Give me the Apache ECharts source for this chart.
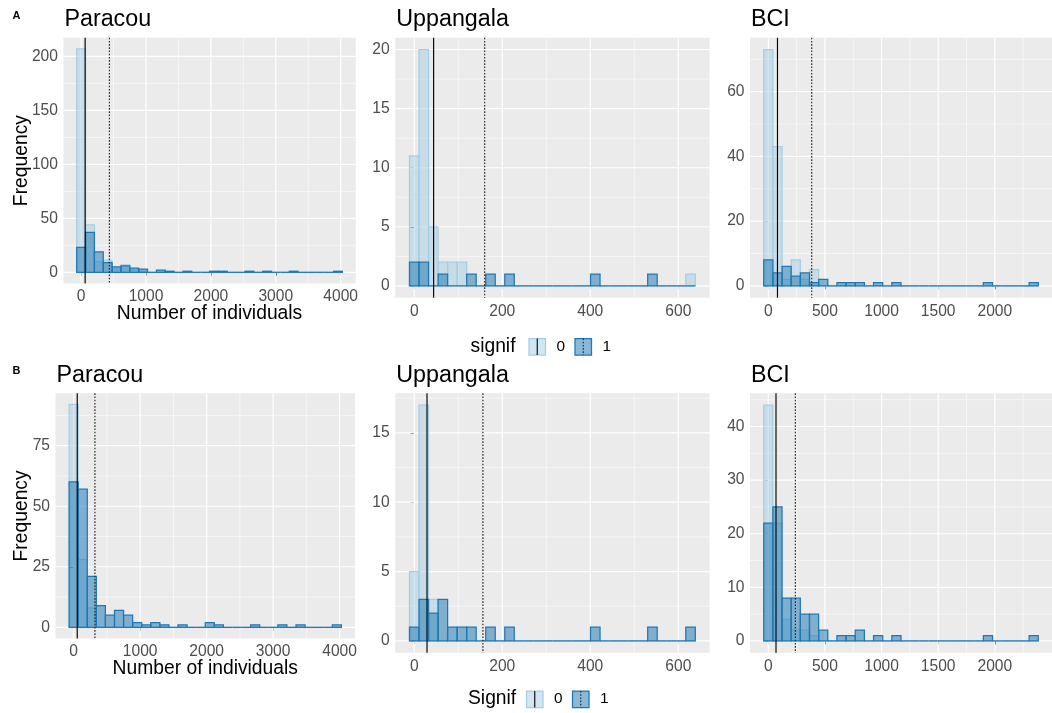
<!DOCTYPE html>
<html><head><meta charset="utf-8">
<script src="https://cdn.jsdelivr.net/npm/echarts@6/dist/echarts.min.js"></script>
<style>html,body{margin:0;padding:0;background:#fff}#c{width:1052px;height:713px}</style>
</head><body><div id="c"></div>
<script>
// ---------- DATA ----------
const sites = ["Paracou", "Uppangala", "BCI"];
const binWidth = [136.5, 21.65, 80.8];          // histogram bin width (30 bins, first centred at 0)
const xTicks = [[0,1000,2000,3000,4000],[0,200,400,600],[0,500,1000,1500,2000]];
const yTicksA = [[0,50,100,150,200],[0,5,10,15,20],[0,20,40,60]];
const yTicksB = [[0,25,50,75],[0,5,10,15],[0,10,20,30,40]];

// counts per bin: signif 0 / signif 1 (panel A)
const paracouA0 = [207,44,10,11,3,7,2,1,0,0,0,0,0,0,0,0,0,0,0,0,0,0,0,0,0,0,0,0,0,0];
const paracouA1 = [23,37,19,9,5,6,4,3,0,2,1,0,1,0,0,1,1,0,0,1,0,1,0,0,1,0,0,0,0,1];
const uppangalaA0 = [11,20,5,2,2,2,0,0,0,0,0,0,0,0,0,0,0,0,0,0,0,0,0,0,0,0,0,0,0,1];
const uppangalaA1 = [2,2,0,1,0,0,1,0,1,0,1,0,0,0,0,0,0,0,0,1,0,0,0,0,0,1,0,0,0,0];
const bciA0 = [73,43,2,8,2,5,0,0,0,0,0,0,0,0,0,0,0,0,0,0,0,0,0,0,0,0,0,0,0,0];
const bciA1 = [8,4,6,3,4,1,2,0,1,1,1,0,1,0,1,0,0,0,0,0,0,0,0,0,1,0,0,0,0,1];
// panel B
const paracouB0 = [92,28,8,0,0,0,0,0,0,0,0,0,0,0,0,0,0,0,0,0,0,0,0,0,0,0,0,0,0,0];
const paracouB1 = [60,57,21,9,5,7,5,2,1,2,1,0,1,0,0,2,1,0,0,0,1,0,0,1,0,1,0,0,0,1];
const uppangalaB0 = [5,17,3,0,0,0,0,0,0,0,0,0,0,0,0,0,0,0,0,0,0,0,0,0,0,0,0,0,0,0];
const uppangalaB1 = [1,3,2,3,1,1,1,0,1,0,1,0,0,0,0,0,0,0,0,1,0,0,0,0,0,1,0,0,0,1];
const bciB0 = [44,22,4,2,2,1,0,0,0,0,0,0,0,0,0,0,0,0,0,0,0,0,0,0,0,0,0,0,0,0];
const bciB1 = [22,25,8,8,5,5,2,0,1,1,2,0,1,0,1,0,0,0,0,0,0,0,0,0,1,0,0,0,0,1];

// reference lines (signif 0 solid, signif 1 dotted)
const vlineA0 = [62, 44, 81];
const vlineA1 = [436, 160, 383];
const vlineB0 = [54, 29, 68];
const vlineB1 = [320, 156, 239];

// ---------- LAYOUT ----------
const FONT = '"Liberation Sans", Arial, Helvetica, sans-serif';
const gridBoxes = [
  [63.4, 37.7, 292.3, 245.8], [395.2, 37.7, 314.4, 260], [750, 37.7, 315.2, 260],
  [55.5, 393.3, 299.5, 245.2], [395.2, 393.3, 314.4, 259.4], [750, 393.3, 315.2, 259.4]
];
const counts0 = [paracouA0, uppangalaA0, bciA0, paracouB0, uppangalaB0, bciB0];
const counts1 = [paracouA1, uppangalaA1, bciA1, paracouB1, uppangalaB1, bciB1];
const vl0 = vlineA0.concat(vlineB0);
const vl1 = vlineA1.concat(vlineB1);
const yTicks = yTicksA.concat(yTicksB);

const LIGHT_FILL = 'rgba(166,206,227,0.5)', LIGHT_LINE = '#A6CEE3';
const DARK_FILL = 'rgba(31,120,180,0.52)', DARK_LINE = '#1F78B4';
const OUTLINE_W = 1.25;

function minorOf(majors, lo, hi) {
  const step = majors[1] - majors[0];
  const out = [];
  for (let i = 0; i < majors.length - 1; i++) out.push((majors[i] + majors[i+1]) / 2);
  if (majors[0] - step/2 > lo) out.unshift(majors[0] - step/2);
  if (majors[majors.length-1] + step/2 < hi) out.push(majors[majors.length-1] + step/2);
  return out;
}

const grids = [], xAxes = [], yAxes = [], series = [];
for (let p = 0; p < 6; p++) {
  const s = p % 3;
  const w = binWidth[s];
  const xmin = -w/2 - 0.05 * 30 * w, xmax = 29.5 * w + 0.05 * 30 * w;
  const M = Math.max(...counts0[p], ...counts1[p]);
  const ymin = -0.05 * M, ymax = 1.05 * M;
  const g = gridBoxes[p];
  grids.push({left: g[0], top: g[1], width: g[2], height: g[3], show: true,
    backgroundColor: '#EBEBEB', borderWidth: 0, containLabel: false});
  const xt = xTicks[s], yt = yTicks[p];
  const isLeft = (s === 0);
  xAxes.push({
    gridIndex: p, type: 'value', min: xmin, max: xmax,
    axisLine: {show: false}, splitLine: {show: false},
    axisTick: {show: true, customValues: xt, length: 3.5, lineStyle: {color: '#333333', width: 1}},
    axisLabel: {customValues: xt, color: '#4D4D4D', fontSize: 15.6, fontFamily: FONT, margin: 5.5,
      formatter: v => (xt.indexOf(v) >= 0 ? String(v) : '')},
    name: isLeft ? 'Number of individuals' : '', nameLocation: 'middle', nameGap: 21,
    nameMoveOverlap: false,
    nameTextStyle: {fontSize: 19.3, color: '#000', fontFamily: FONT}
  });
  yAxes.push({
    gridIndex: p, type: 'value', min: ymin, max: ymax,
    axisLine: {show: false}, splitLine: {show: false},
    axisTick: {show: true, customValues: yt, length: 3.5, lineStyle: {color: '#333333', width: 1}},
    axisLabel: {customValues: yt, color: '#4D4D4D', fontSize: 15.6, fontFamily: FONT, margin: 5.5,
      formatter: v => (yt.indexOf(v) >= 0 ? String(v) : '')},
    name: isLeft ? 'Frequency' : '', nameLocation: 'middle', nameRotate: 90,
    nameGap: p === 0 ? 32 : 24, nameMoveOverlap: false,
    nameTextStyle: {fontSize: 19.3, color: '#000', fontFamily: FONT}
  });

  // grid lines
  const gl = [];
  minorOf(xt, xmin, xmax).forEach(v => gl.push([v, 0, 0]));
  minorOf(yt, ymin, ymax).forEach(v => gl.push([v, 1, 0]));
  xt.forEach(v => gl.push([v, 0, 1]));
  yt.forEach(v => gl.push([v, 1, 1]));
  series.push({
    type: 'custom', xAxisIndex: p, yAxisIndex: p, z: 1, silent: true, data: gl,
    renderItem: function (params, api) {
      const cs = params.coordSys;
      const v = api.value(0), dir = api.value(1), major = api.value(2);
      const lw = major ? 1.15 : 0.55;
      if (dir === 0) {
        const x = api.coord([v, 0])[0];
        return {type: 'line', shape: {x1: x, y1: cs.y, x2: x, y2: cs.y + cs.height}, style: {stroke: '#FFFFFF', lineWidth: lw}};
      }
      const y = api.coord([0, v])[1];
      return {type: 'line', shape: {x1: cs.x, y1: y, x2: cs.x + cs.width, y2: y}, style: {stroke: '#FFFFFF', lineWidth: lw}};
    }
  });

  // histogram bars
  const mkBars = (arr, fill, stroke, z) => ({
    type: 'custom', xAxisIndex: p, yAxisIndex: p, z: z, silent: true,
    data: arr.map((n, i) => [i * w, n]),
    renderItem: function (params, api) {
      const c = api.value(0), n = api.value(1);
      const a = api.coord([c - w/2, n]);
      const b = api.coord([c + w/2, 0]);
      if (n === 0) {
        return {type: 'line', shape: {x1: a[0], y1: b[1], x2: b[0], y2: b[1]}, style: {stroke: stroke, lineWidth: OUTLINE_W}};
      }
      return {type: 'rect', shape: {x: a[0], y: a[1], width: b[0] - a[0], height: b[1] - a[1]},
        style: {fill: fill, stroke: stroke, lineWidth: OUTLINE_W}};
    }
  });
  series.push(mkBars(counts0[p], LIGHT_FILL, LIGHT_LINE, 2));
  series.push(mkBars(counts1[p], DARK_FILL, DARK_LINE, 3));

  // reference lines
  const mkV = (val, dash, color, z) => ({
    type: 'custom', xAxisIndex: p, yAxisIndex: p, z: z, silent: true, data: [[val, 0]],
    renderItem: function (params, api) {
      const cs = params.coordSys;
      const x = api.coord([api.value(0), 0])[0];
      return {type: 'line', shape: {x1: x, y1: cs.y, x2: x, y2: cs.y + cs.height},
        style: {stroke: color, lineWidth: 1.15, lineDash: dash}};
    }
  });
  series.push(mkV(vl0[p], null, '#000000', 4));
  series.push(mkV(vl1[p], [1.6, 1.6], '#222222', 4));
}

// ---------- titles, panel tags, legends ----------
const graphics = [];
const titleY = [20, 375.5];
for (let p = 0; p < 6; p++) {
  graphics.push({type: 'text', x: gridBoxes[p][0] + 1, y: titleY[p < 3 ? 0 : 1],
    style: {text: sites[p % 3], fontSize: 23.3, fontFamily: FONT, fill: '#000', verticalAlign: 'middle'}});
}
graphics.push({type: 'text', x: 12.5, y: 15.5, style: {text: 'A', fontSize: 11, fontWeight: 'bold', fontFamily: FONT, fill: '#000', verticalAlign: 'middle'}});
graphics.push({type: 'text', x: 12.5, y: 371, style: {text: 'B', fontSize: 11, fontWeight: 'bold', fontFamily: FONT, fill: '#000', verticalAlign: 'middle'}});

function legend(cy, title, x0) {
  graphics.push({type: 'text', x: x0, y: cy, style: {text: title, fontSize: 19.3, fontFamily: FONT, fill: '#000', verticalAlign: 'middle'}});
  const keys = [
    {x: x0 + 58.5, fill: LIGHT_FILL, stroke: LIGHT_LINE, dash: null, col: '#000', lab: '0', lx: x0 + 86},
    {x: x0 + 104.5, fill: DARK_FILL, stroke: DARK_LINE, dash: [1.6, 1.6], col: '#222', lab: '1', lx: x0 + 132}
  ];
  keys.forEach(k => {
    graphics.push({type: 'rect', shape: {x: k.x, y: cy - 8, width: 16.5, height: 16.5},
      style: {fill: k.fill, stroke: k.stroke, lineWidth: OUTLINE_W}});
    graphics.push({type: 'line', shape: {x1: k.x + 8.25, y1: cy - 8, x2: k.x + 8.25, y2: cy + 8.5},
      style: {stroke: k.col, lineWidth: 1.1, lineDash: k.dash}});
    graphics.push({type: 'text', x: k.lx, y: cy, style: {text: k.lab, fontSize: 15.4, fontFamily: FONT, fill: '#000', verticalAlign: 'middle'}});
  });
}
legend(346.5, 'signif', 470.5);
legend(699, 'Signif', 468);

const chart = echarts.init(document.getElementById('c'), null, {renderer: 'canvas'});
chart.setOption({
  animation: false,
  backgroundColor: '#FFFFFF',
  grid: grids, xAxis: xAxes, yAxis: yAxes, series: series,
  graphic: graphics
});
</script>
</body></html>
